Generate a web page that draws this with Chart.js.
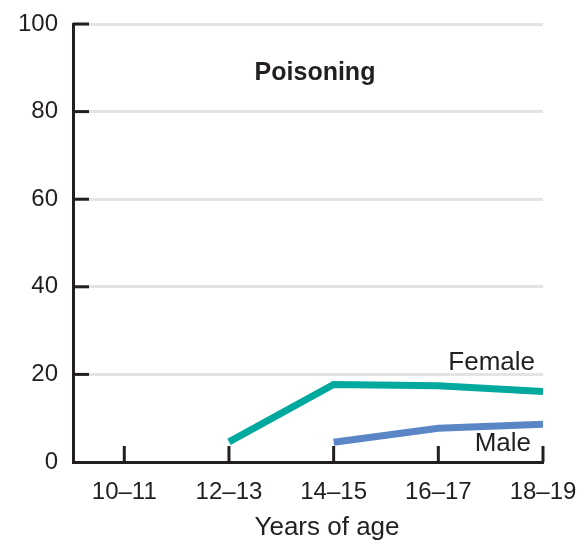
<!DOCTYPE html>
<html>
<head>
<meta charset="utf-8">
<script src="https://cdn.jsdelivr.net/npm/chart.js@4"></script>
<style>
  html, body { margin: 0; padding: 0; background: #fff; }
  #wrap { width: 580px; height: 544px; }
</style>
</head>
<body>
<div id="wrap"><canvas id="chart"></canvas></div>
<script>
var ages = ["10\u201311", "12\u201313", "14\u201315", "16\u201317", "18\u201319"];
var female = [null, 4.6, 17.7, 17.4, 16.1];
var male = [null, null, 4.5, 7.7, 8.6];
var yTicks = [0, 20, 40, 60, 80, 100];

var ink = '#231f20';
var font = '"Liberation Sans", Arial, sans-serif';

function toPoints(arr) {
    return arr.map(function (v, i) { return { x: i, y: v }; });
}

// labels + inward tick marks
var extras = {
    id: 'extras',
    afterDraw: function (chart) {
        var c = chart.ctx, x = chart.scales.x, y = chart.scales.y, a = chart.chartArea;
        c.save();
        c.strokeStyle = ink;
        c.lineWidth = 3;
        yTicks.forEach(function (t) {
            if (t === 0) return;
            var py = y.getPixelForValue(t);
            c.beginPath(); c.moveTo(a.left, py); c.lineTo(a.left + 16, py); c.stroke();
        });
        ages.forEach(function (l, i) {
            var px = x.getPixelForValue(i);
            c.beginPath(); c.moveTo(px, a.bottom); c.lineTo(px, a.bottom - 16); c.stroke();
        });
        c.fillStyle = ink;
        c.textBaseline = 'middle';
        c.font = 'bold 25px ' + font;
        c.textAlign = 'center';
        c.fillText('Poisoning', 315, 73);
        c.font = '26px ' + font;
        c.fillText('Years of age', 327, 528);
        c.textAlign = 'right';
        c.fillText('Female', x.getPixelForValue(4) - 8, y.getPixelForValue(female[4]) - 29);
        c.fillText('Male', x.getPixelForValue(4) - 12, y.getPixelForValue(male[4]) + 19);
        c.restore();
    }
};

var ctx = document.getElementById('chart');
var chart = new Chart(ctx, {
    type: 'line',
    data: {
        datasets: [
            {
                label: 'Female',
                data: toPoints(female),
                borderColor: '#00a99d',
                borderWidth: 7,
                pointRadius: 0,
                tension: 0
            },
            {
                label: 'Male',
                data: toPoints(male),
                borderColor: '#5b86c6',
                borderWidth: 7,
                pointRadius: 0,
                tension: 0
            }
        ]
    },
    options: {
        responsive: true,
        maintainAspectRatio: false,
        animation: false,
        layout: { padding: { top: 24, right: 37, left: 0, bottom: 0 } },
        plugins: { legend: { display: false }, tooltip: { enabled: false } },
        scales: {
            x: {
                type: 'linear',
                min: -0.49,
                max: 4,
                afterBuildTicks: function (s) {
                    s.ticks = ages.map(function (l, i) { return { value: i }; });
                },
                afterFit: function (s) {
                    s.height = 82;
                    s.paddingLeft = 0;
                    s.paddingRight = 0;
                },
                grid: { display: false, drawTicks: false },
                border: { color: ink, width: 3 },
                ticks: {
                    padding: 16,
                    maxRotation: 0,
                    color: ink,
                    font: { family: font, size: 24 },
                    callback: function (v) { return ages[v] || ''; }
                }
            },
            y: {
                min: 0,
                max: 100,
                afterBuildTicks: function (s) {
                    s.ticks = yTicks.map(function (v) { return { value: v }; });
                },
                afterFit: function (s) {
                    s.width = 73;
                    s.paddingTop = 0;
                    s.paddingBottom = 0;
                },
                grid: { color: '#e4e4e4', lineWidth: 3, drawTicks: false },
                border: { color: ink, width: 3 },
                ticks: {
                    padding: 15,
                    color: ink,
                    font: { family: font, size: 24 }
                }
            }
        }
    },
    plugins: [extras]
});
</script>
</body>
</html>
